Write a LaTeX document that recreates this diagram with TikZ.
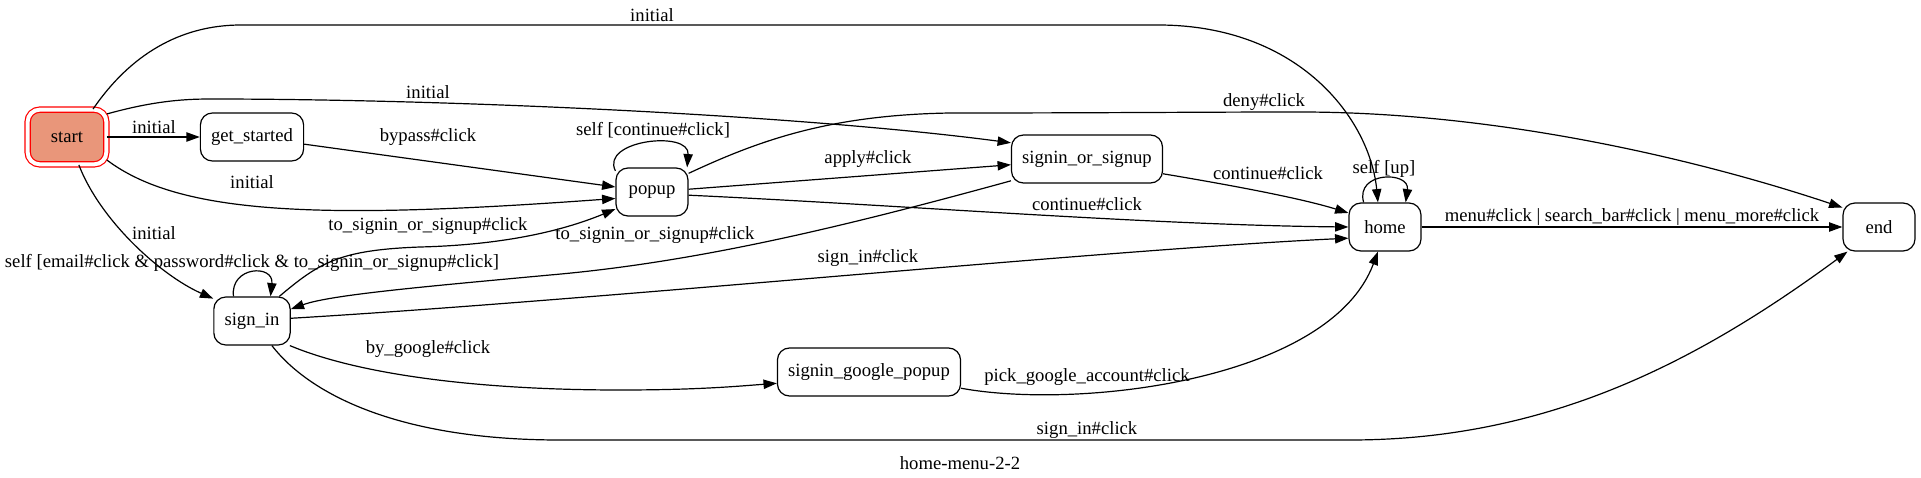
\documentclass[tikz,border=0pt]{standalone}
\usepackage{fontspec}
\setmainfont{Liberation Serif}
\usetikzlibrary{arrows.meta}
\definecolor{startfill}{HTML}{E9967A}

\begin{document}
\begin{tikzpicture}[
  x=0.75pt, y=-0.75pt,
  every node/.style={font=\fontsize{14pt}{16pt}\selectfont},
  state/.style={rectangle, rounded corners=9pt, draw, line width=0.9pt,
                minimum width=54pt, minimum height=36pt, inner xsep=8pt},
  first/.style={state, draw=red, fill=startfill, double=white, double distance=3pt,
                minimum width=59pt, minimum height=41pt},
  lbl/.style={inner sep=0pt},
  arr/.style={-{Triangle[length=10pt, width=7pt]}, line width=0.9pt},
]
\useasboundingbox (0,0) rectangle (1921,478);

% States
\node[first] (start)   at (67,137)   {start};
\node[state] (started) at (252,137)  {get\_started};
\node[state] (popup)   at (652,192)  {popup};
\node[state] (signor)  at (1087,159) {signin\_or\_signup};
\node[state] (home)    at (1385,227) {home};
\node[state] (last)    at (1879,227) {end};
\node[state] (signin)  at (252,321)  {sign\_in};
\node[state] (google)  at (869,372)  {signin\_google\_popup};

% start -> *
\draw[arr] (start.47) .. controls (130,55) and (180,25) .. (241,25) -- (1158,25)
  .. controls (1300,25) and (1370,120) .. (home.106)
  node[lbl] at (652,15) {initial};
\draw[arr] (start.30) .. controls (150,102) and (180,99) .. (210,99)
  .. controls (450,99) and (800,115) .. (signor.168)
  node[lbl] at (428,92) {initial};
\draw[arr] (start) -- (started)
  node[lbl] at (154,127) {initial};
\draw[arr] (start.-30) .. controls (180,215) and (320,220) .. (popup.190)
  node[lbl] at (252,182) {initial};
\draw[arr] (start.-67) .. controls (100,220) and (160,275) .. (signin.150)
  node[lbl] at (154,233) {initial};

% get_started
\draw[arr] (started) -- (popup)
  node[lbl] at (428,137) {bypass\#click};

% popup
\draw[arr] (popup.150) .. controls (600,140) and (690,130) .. (popup.35)
  node[lbl] at (653,130) {self [continue\#click]};
\draw[arr] (popup.27) .. controls (760,140) and (830,115) .. (950,113)
  .. controls (1100,113) and (1200,112) .. (1300,112)
  .. controls (1500,112) and (1700,160) .. (last.152)
  node[lbl] at (1264,102) {deny\#click};
\draw[arr] (popup) -- (signor)
  node[lbl] at (868,159) {apply\#click};
\draw[arr] (popup.-5) .. controls (900,205) and (1150,225) .. (home.180)
  node[lbl] at (1087,204) {continue\#click};

% signin_or_signup
\draw[arr] (signor.-11) .. controls (1230,185) and (1300,198) .. (home.159)
  node[lbl] at (1268,173) {continue\#click};
\draw[arr] (signor.196) .. controls (850,225) and (700,262) .. (550,275)
  .. controls (420,287) and (330,295) .. (signin.17)
  node[lbl] at (655,235) {to\_signin\_or\_signup\#click};

% sign_in
\draw[arr] (signin.42) .. controls (320,262) and (340,250) .. (420,247)
  .. controls (500,245) and (560,232) .. (popup.205)
  node[lbl] at (428,226) {to\_signin\_or\_signup\#click};
\draw[arr] (signin.127) .. controls (230,266) and (274,264) .. (signin.53)
  node[lbl] at (252,263) {self [email\#click \& password\#click \& to\_signin\_or\_signup\#click]};
\draw[arr] (signin.4) .. controls (600,300) and (1100,250) .. (home.197)
  node[lbl] at (868,258) {sign\_in\#click};
\draw[arr] (signin.-33) .. controls (360,375) and (480,390) .. (620,390)
  .. controls (700,390) and (740,386) .. (google.187)
  node[lbl] at (428,349) {by\_google\#click};
\draw[arr] (signin.-51) .. controls (310,395) and (400,440) .. (560,440) -- (1350,440)
  .. controls (1550,440) and (1700,360) .. (last.218)
  node[lbl] at (1087,430) {sign\_in\#click};

% signin_google_popup
\draw[arr] (google.-10) .. controls (1080,410) and (1330,380) .. (home.-106)
  node[lbl] at (1087,377) {pick\_google\_account\#click};

% home
\draw[arr] (home.131) .. controls (1355,171) and (1410,171) .. (home.50)
  node[lbl] at (1384,169) {self [up]};
\draw[arr] (home) -- (last)
  node[lbl] at (1632,217) {menu\#click | search\_bar\#click | menu\_more\#click};

\node[lbl] (title) at (960,463) {home-menu-2-2};
\end{tikzpicture}
\end{document}
